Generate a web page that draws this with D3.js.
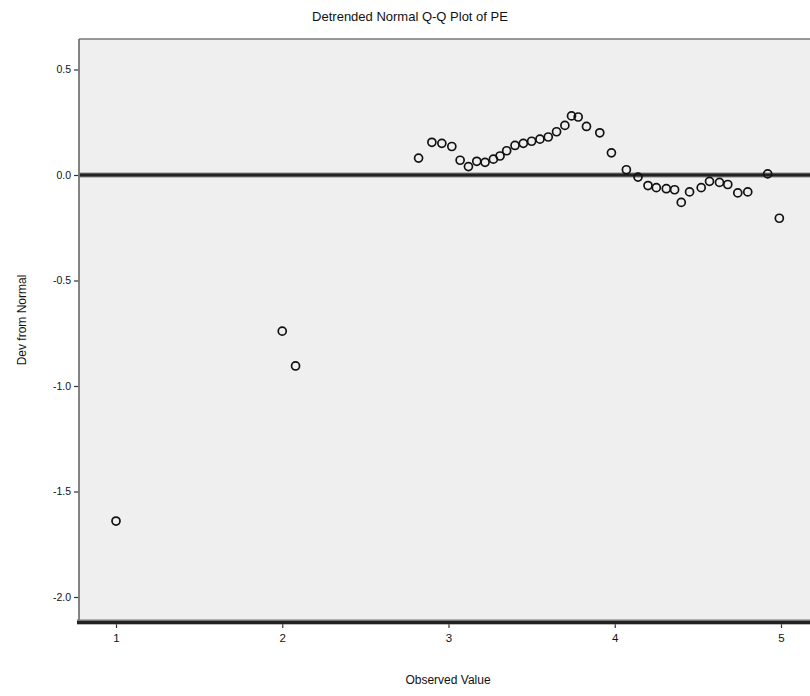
<!DOCTYPE html>
<html>
<head>
<meta charset="utf-8">
<script src="https://cdn.jsdelivr.net/npm/d3@7"></script>
<style>
  html, body { margin: 0; padding: 0; background: #ffffff; }
  svg { display: block; }
  text { font-family: "Liberation Sans", Arial, sans-serif; fill: #111; }
</style>
</head>
<body>
<svg id="chart" width="810" height="696"></svg>
<script>
// ---- data ----
const observedValue = [1.00, 2.00, 2.08, 2.82, 2.90, 2.96, 3.02, 3.07, 3.12, 3.17, 3.22, 3.27, 3.31, 3.35, 3.40, 3.45, 3.50, 3.55, 3.60, 3.65, 3.70, 3.74, 3.78, 3.83, 3.91, 3.98, 4.07, 4.14, 4.20, 4.25, 4.31, 4.36, 4.40, 4.45, 4.52, 4.57, 4.63, 4.68, 4.74, 4.80, 4.92, 4.99];
const devFromNormal = [-1.64, -0.74, -0.905, 0.08, 0.155, 0.15, 0.135, 0.07, 0.04, 0.065, 0.06, 0.075, 0.09, 0.115, 0.14, 0.15, 0.16, 0.17, 0.18, 0.205, 0.235, 0.28, 0.275, 0.23, 0.20, 0.105, 0.025, -0.01, -0.05, -0.06, -0.065, -0.07, -0.13, -0.08, -0.06, -0.03, -0.035, -0.045, -0.085, -0.08, 0.005, -0.205];
const xTicks = [1, 2, 3, 4, 5];
const xTickLabels = ["1", "2", "3", "4", "5"];
const yTicks = [0.5, 0.0, -0.5, -1.0, -1.5, -2.0];
const yTickLabels = ["0.5", "0.0", "-0.5", "-1.0", "-1.5", "-2.0"];
const chartTitle = "Detrended Normal Q-Q Plot of PE";
const xTitle = "Observed Value";
const yTitle = "Dev from Normal";

// ---- layout ----
const svg = d3.select("#chart");
const plot = { left: 79, top: 39, right: 812, bottom: 622 };

const x = d3.scaleLinear().domain([1, 5]).range([116, 781]);
const y = d3.scaleLinear().domain([0, -2]).range([175, 597]);

// plot background
svg.append("rect")
  .attr("x", plot.left).attr("y", plot.top)
  .attr("width", plot.right - plot.left).attr("height", plot.bottom - plot.top)
  .attr("fill", "#efefef");

// top border
svg.append("line")
  .attr("x1", plot.left).attr("x2", plot.right)
  .attr("y1", plot.top).attr("y2", plot.top)
  .attr("stroke", "#777").attr("stroke-width", 1.5);

// zero reference line
svg.append("line")
  .attr("x1", plot.left).attr("x2", plot.right)
  .attr("y1", y(0)).attr("y2", y(0))
  .attr("stroke", "#888").attr("stroke-width", 5);
svg.append("line")
  .attr("x1", plot.left).attr("x2", plot.right)
  .attr("y1", y(0)).attr("y2", y(0))
  .attr("stroke", "#222").attr("stroke-width", 3);

// y axis
const yAxis = d3.axisLeft(y)
  .tickValues(yTicks)
  .tickFormat((d, i) => yTickLabels[i])
  .tickSizeOuter(0)
  .tickSize(5)
  .tickPadding(3);
const gy = svg.append("g")
  .attr("transform", `translate(${plot.left},0)`)
  .call(yAxis);
gy.select(".domain").remove();
gy.selectAll(".tick line").attr("stroke", "#333").attr("stroke-width", 1.2);
gy.selectAll(".tick text").attr("font-size", 10.5).attr("fill", "#222")
  .style("font-family", "'Liberation Sans Narrow', 'Liberation Sans', Arial, sans-serif");
svg.append("line")
  .attr("x1", plot.left).attr("x2", plot.left)
  .attr("y1", plot.top).attr("y2", plot.bottom)
  .attr("stroke", "#777").attr("stroke-width", 1.8);

// x axis
const xAxis = d3.axisBottom(x)
  .tickValues(xTicks)
  .tickFormat((d, i) => xTickLabels[i])
  .tickSizeOuter(0)
  .tickSize(6)
  .tickPadding(6);
const gx = svg.append("g")
  .attr("transform", `translate(0,${plot.bottom})`)
  .call(xAxis);
gx.select(".domain").remove();
gx.selectAll(".tick line").attr("stroke", "#333").attr("stroke-width", 1.2);
gx.selectAll(".tick text").attr("font-size", 11.5).attr("fill", "#222");
svg.append("line")
  .attr("x1", plot.left - 2).attr("x2", plot.right)
  .attr("y1", plot.bottom).attr("y2", plot.bottom)
  .attr("stroke", "#777").attr("stroke-width", 5);
svg.append("line")
  .attr("x1", plot.left - 2).attr("x2", plot.right)
  .attr("y1", plot.bottom + 0.5).attr("y2", plot.bottom + 0.5)
  .attr("stroke", "#222").attr("stroke-width", 3);

// points
const pts = observedValue.map((v, i) => ({ x: v, y: devFromNormal[i] }));
svg.append("g").selectAll("circle")
  .data(pts)
  .join("circle")
  .attr("cx", d => x(d.x))
  .attr("cy", d => y(d.y))
  .attr("r", 4)
  .attr("fill", "none")
  .attr("stroke", "#111")
  .attr("stroke-width", 1.7);

// titles
svg.append("text")
  .attr("x", 410).attr("y", 21)
  .attr("text-anchor", "middle")
  .attr("font-size", 13)
  .text(chartTitle);

svg.append("text")
  .attr("x", 448).attr("y", 684)
  .attr("text-anchor", "middle")
  .attr("font-size", 12)
  .text(xTitle);

svg.append("text")
  .attr("transform", `translate(26,320) rotate(-90)`)
  .attr("text-anchor", "middle")
  .attr("font-size", 12)
  .text(yTitle);
</script>
</body>
</html>
